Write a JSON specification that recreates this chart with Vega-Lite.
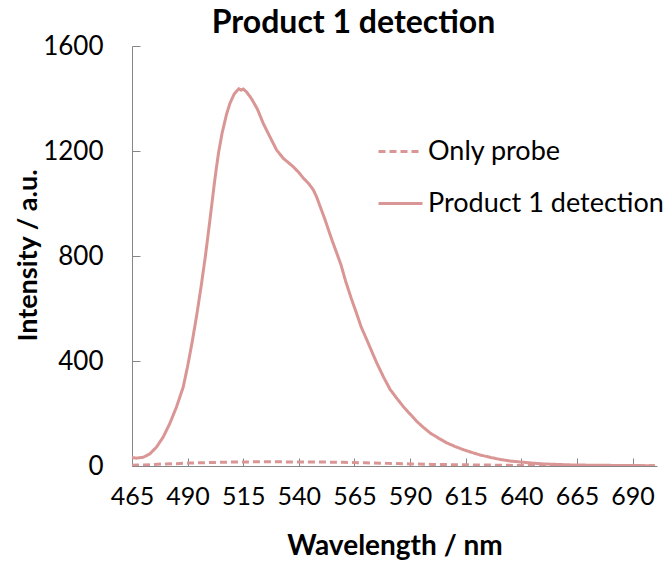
{
  "$schema": "https://vega.github.io/schema/vega-lite/v6.json",
  "width": 525,
  "height": 420,
  "autosize": {"type": "none"},
  "padding": {"left": 132, "top": 46, "right": 14, "bottom": 99},
  "background": "white",
  "config": {
    "view": {"stroke": null},
    "font": "Lato"
  },
  "title": {
    "text": "Product 1 detection",
    "font": "Lato",
    "fontSize": 32,
    "fontWeight": "bold",
    "color": "#000000",
    "anchor": "middle",
    "dx": -41,
    "offset": -7
  },
  "data": {
    "values": [
      {"wl": 465, "v": 3, "s": "Only probe"},
      {"wl": 470, "v": 4, "s": "Only probe"},
      {"wl": 475, "v": 6, "s": "Only probe"},
      {"wl": 480, "v": 8, "s": "Only probe"},
      {"wl": 485, "v": 9, "s": "Only probe"},
      {"wl": 490, "v": 11, "s": "Only probe"},
      {"wl": 495, "v": 12, "s": "Only probe"},
      {"wl": 500, "v": 13, "s": "Only probe"},
      {"wl": 505, "v": 14, "s": "Only probe"},
      {"wl": 510, "v": 15, "s": "Only probe"},
      {"wl": 515, "v": 15, "s": "Only probe"},
      {"wl": 520, "v": 16, "s": "Only probe"},
      {"wl": 530, "v": 16, "s": "Only probe"},
      {"wl": 540, "v": 15, "s": "Only probe"},
      {"wl": 550, "v": 15, "s": "Only probe"},
      {"wl": 560, "v": 14, "s": "Only probe"},
      {"wl": 570, "v": 12, "s": "Only probe"},
      {"wl": 580, "v": 10, "s": "Only probe"},
      {"wl": 590, "v": 8, "s": "Only probe"},
      {"wl": 600, "v": 6, "s": "Only probe"},
      {"wl": 610, "v": 5, "s": "Only probe"},
      {"wl": 620, "v": 4, "s": "Only probe"},
      {"wl": 630, "v": 3, "s": "Only probe"},
      {"wl": 640, "v": 2, "s": "Only probe"},
      {"wl": 660, "v": 1, "s": "Only probe"},
      {"wl": 700, "v": 1, "s": "Only probe"},

      {"wl": 465, "v": 32, "s": "Product 1 detection"},
      {"wl": 467, "v": 30, "s": "Product 1 detection"},
      {"wl": 470, "v": 33, "s": "Product 1 detection"},
      {"wl": 473, "v": 46, "s": "Product 1 detection"},
      {"wl": 476, "v": 72, "s": "Product 1 detection"},
      {"wl": 479, "v": 110, "s": "Product 1 detection"},
      {"wl": 482, "v": 162, "s": "Product 1 detection"},
      {"wl": 485, "v": 225, "s": "Product 1 detection"},
      {"wl": 488, "v": 300, "s": "Product 1 detection"},
      {"wl": 490, "v": 380, "s": "Product 1 detection"},
      {"wl": 492, "v": 470, "s": "Product 1 detection"},
      {"wl": 494, "v": 570, "s": "Product 1 detection"},
      {"wl": 496, "v": 680, "s": "Product 1 detection"},
      {"wl": 498, "v": 800, "s": "Product 1 detection"},
      {"wl": 500, "v": 935, "s": "Product 1 detection"},
      {"wl": 502, "v": 1075, "s": "Product 1 detection"},
      {"wl": 503, "v": 1140, "s": "Product 1 detection"},
      {"wl": 504, "v": 1198, "s": "Product 1 detection"},
      {"wl": 505.5, "v": 1268, "s": "Product 1 detection"},
      {"wl": 507.5, "v": 1340, "s": "Product 1 detection"},
      {"wl": 509, "v": 1381, "s": "Product 1 detection"},
      {"wl": 510, "v": 1400, "s": "Product 1 detection"},
      {"wl": 511, "v": 1418, "s": "Product 1 detection"},
      {"wl": 512, "v": 1428, "s": "Product 1 detection"},
      {"wl": 513, "v": 1437, "s": "Product 1 detection"},
      {"wl": 514, "v": 1432, "s": "Product 1 detection"},
      {"wl": 515, "v": 1436, "s": "Product 1 detection"},
      {"wl": 516.5, "v": 1425, "s": "Product 1 detection"},
      {"wl": 518.5, "v": 1402, "s": "Product 1 detection"},
      {"wl": 520, "v": 1380, "s": "Product 1 detection"},
      {"wl": 521.5, "v": 1357, "s": "Product 1 detection"},
      {"wl": 524, "v": 1305, "s": "Product 1 detection"},
      {"wl": 527, "v": 1254, "s": "Product 1 detection"},
      {"wl": 530, "v": 1204, "s": "Product 1 detection"},
      {"wl": 533, "v": 1172, "s": "Product 1 detection"},
      {"wl": 535, "v": 1158, "s": "Product 1 detection"},
      {"wl": 537.5, "v": 1140, "s": "Product 1 detection"},
      {"wl": 540, "v": 1118, "s": "Product 1 detection"},
      {"wl": 542, "v": 1097, "s": "Product 1 detection"},
      {"wl": 544.5, "v": 1075, "s": "Product 1 detection"},
      {"wl": 546.5, "v": 1052, "s": "Product 1 detection"},
      {"wl": 548, "v": 1025, "s": "Product 1 detection"},
      {"wl": 549.5, "v": 990, "s": "Product 1 detection"},
      {"wl": 551.5, "v": 945, "s": "Product 1 detection"},
      {"wl": 553.3, "v": 900, "s": "Product 1 detection"},
      {"wl": 555, "v": 858, "s": "Product 1 detection"},
      {"wl": 557, "v": 812, "s": "Product 1 detection"},
      {"wl": 559, "v": 765, "s": "Product 1 detection"},
      {"wl": 561, "v": 705, "s": "Product 1 detection"},
      {"wl": 563.5, "v": 640, "s": "Product 1 detection"},
      {"wl": 566, "v": 580, "s": "Product 1 detection"},
      {"wl": 568, "v": 530, "s": "Product 1 detection"},
      {"wl": 570.5, "v": 482, "s": "Product 1 detection"},
      {"wl": 573, "v": 432, "s": "Product 1 detection"},
      {"wl": 575, "v": 393, "s": "Product 1 detection"},
      {"wl": 578, "v": 340, "s": "Product 1 detection"},
      {"wl": 581, "v": 292, "s": "Product 1 detection"},
      {"wl": 584, "v": 258, "s": "Product 1 detection"},
      {"wl": 587, "v": 226, "s": "Product 1 detection"},
      {"wl": 590, "v": 198, "s": "Product 1 detection"},
      {"wl": 593, "v": 170, "s": "Product 1 detection"},
      {"wl": 596, "v": 147, "s": "Product 1 detection"},
      {"wl": 599, "v": 126, "s": "Product 1 detection"},
      {"wl": 603, "v": 105, "s": "Product 1 detection"},
      {"wl": 606.5, "v": 88, "s": "Product 1 detection"},
      {"wl": 610, "v": 75, "s": "Product 1 detection"},
      {"wl": 614, "v": 62, "s": "Product 1 detection"},
      {"wl": 618, "v": 51, "s": "Product 1 detection"},
      {"wl": 621.5, "v": 42, "s": "Product 1 detection"},
      {"wl": 626, "v": 33, "s": "Product 1 detection"},
      {"wl": 630.5, "v": 25, "s": "Product 1 detection"},
      {"wl": 635, "v": 19, "s": "Product 1 detection"},
      {"wl": 640, "v": 15, "s": "Product 1 detection"},
      {"wl": 645, "v": 11, "s": "Product 1 detection"},
      {"wl": 650, "v": 8, "s": "Product 1 detection"},
      {"wl": 656, "v": 6, "s": "Product 1 detection"},
      {"wl": 663, "v": 4, "s": "Product 1 detection"},
      {"wl": 672, "v": 3, "s": "Product 1 detection"},
      {"wl": 685, "v": 2, "s": "Product 1 detection"},
      {"wl": 700, "v": 1, "s": "Product 1 detection"}
    ]
  },
  "mark": {"type": "line", "strokeWidth": 3, "clip": true},
  "encoding": {
    "x": {
      "field": "wl",
      "type": "quantitative",
      "scale": {"domain": [465, 701], "nice": false, "zero": false},
      "axis": {
        "title": "Wavelength / nm",
        "values": [465, 490, 515, 540, 565, 590, 615, 640, 665, 690],
        "format": "d",
        "labelOverlap": false,
        "labelFlush": false,
        "grid": false,
        "domainColor": "#868686",
        "domainWidth": 1,
        "tickColor": "#868686",
        "tickSize": -8,
        "labelPadding": 26,
        "labelFontSize": 25,
        "labelColor": "#000000",
        "labelFont": "Lato",
        "titleFont": "Lato",
        "titleFontSize": 28,
        "titleFontWeight": "bold",
        "titleColor": "#000000",
        "titleBaseline": "middle",
        "titleY": 80
      }
    },
    "y": {
      "field": "v",
      "type": "quantitative",
      "scale": {"domain": [0, 1600], "nice": false},
      "axis": {
        "title": "Intensity / a.u.",
        "values": [0, 400, 800, 1200, 1600],
        "format": "d",
        "labelOverlap": false,
        "labelFlush": false,
        "grid": false,
        "domainColor": "#868686",
        "domainWidth": 1,
        "tickColor": "#868686",
        "tickSize": -8,
        "labelPadding": 37,
        "labelFontSize": 26,
        "labelColor": "#000000",
        "labelFont": "Lato",
        "titleFont": "Lato",
        "titleFontSize": 27,
        "titleFontWeight": "bold",
        "titleColor": "#000000",
        "titleBaseline": "middle",
        "titleX": -104,
        "titleY": 209
      }
    },
    "color": {
      "field": "s",
      "type": "nominal",
      "scale": {"domain": ["Only probe", "Product 1 detection"], "range": ["#D99694", "#D99694"]},
      "legend": {
        "title": null,
        "orient": "none",
        "legendX": 245,
        "legendY": 82,
        "padding": 0,
        "symbolType": "stroke",
        "symbolSize": 1936,
        "symbolStrokeWidth": 3,
        "symbolStrokeColor": "#D99694",
        "labelFont": "Lato",
        "labelFontSize": 27,
        "labelColor": "#000000",
        "labelOffset": 4,
        "labelLimit": 0,
        "rowPadding": 15,
        "symbolDash": [7, 4]
      }
    },
    "strokeDash": {
      "field": "s",
      "type": "nominal",
      "scale": {"domain": ["Only probe", "Product 1 detection"], "range": [[7, 4], [1, 0]]},
      "legend": null
    }
  }
}
